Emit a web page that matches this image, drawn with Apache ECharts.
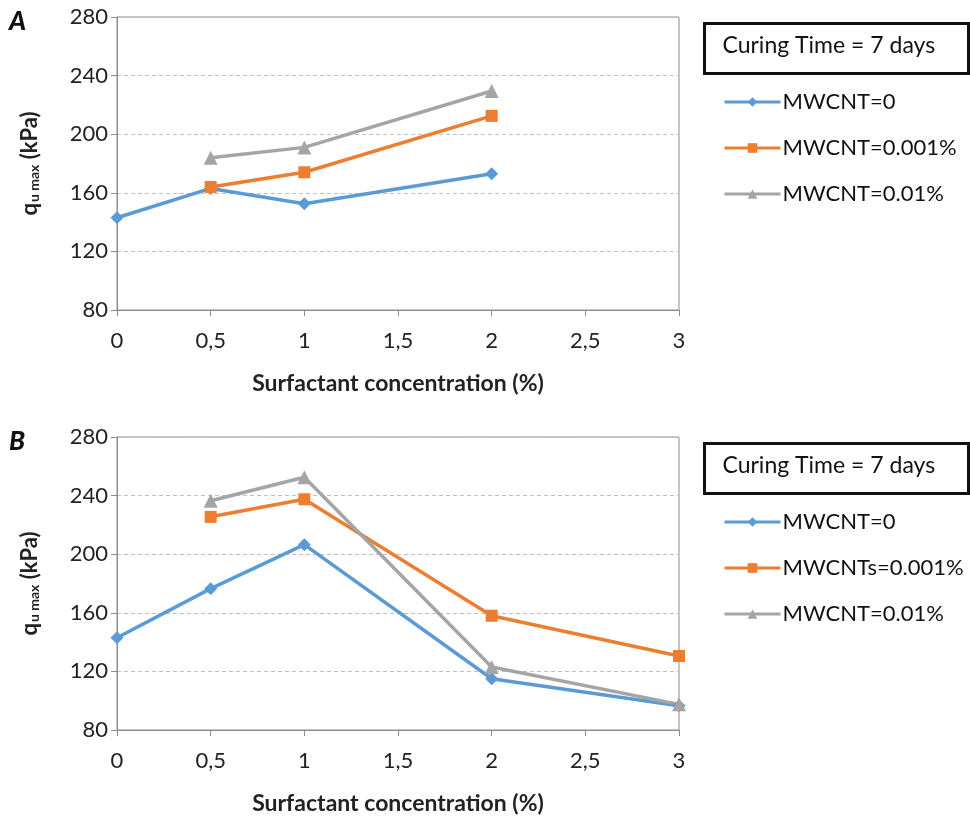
<html>
<head>
<meta http-equiv="Content-Type" content="text/html; charset=utf-8">
<title>qu max vs surfactant</title>
<script src="https://cdn.jsdelivr.net/npm/echarts@6/dist/echarts.min.js"></script>
</head>
<body style="margin:0;background:#fff;">
<div id="main" style="width:970px;height:821px;"></div>
<script type="text/javascript">
// x positions (surfactant %), values in kPa
var xA = [0, 0.5, 1, 2];
var a_mw0 = [143, 163, 152.5, 173];
var a_mw001 = [null, 164, 174, 212.5];
var a_mw01 = [null, 184, 191, 229.5];

var xB = [0, 0.5, 1, 2, 3];
var b_mw0 = [143, 176.5, 206.5, 115, 96.5];
var b_mw001 = [null, 225.5, 237.5, 158, 130.5];
var b_mw01 = [null, 236.5, 252.5, 123, 97.5];

var namesA = ['MWCNT=0', 'MWCNT=0.001%', 'MWCNT=0.01%'];
var namesB = ['MWCNT=0', 'MWCNTs=0.001%', 'MWCNT=0.01%'];
var yTicks = [80, 120, 160, 200, 240, 280];

var colors = ['#5B9BD5', '#ED7D31', '#A5A5A5'];
var symbols = ['diamond', 'rect', 'triangle'];
var symSize = [13, 12, 14];
var font = 'Lato, "Open Sans", sans-serif';

function pairs(xs, ys) {
    var out = [];
    for (var i = 0; i < xs.length; i++) {
        if (ys[i] != null) out.push([xs[i], ys[i]]);
    }
    return out;
}

function xAxis(idx) {
    return {
        type: 'value', gridIndex: idx, min: 0, max: 3, interval: 0.5,
        name: 'Surfactant concentration (%)', nameLocation: 'middle', nameGap: 62,
        nameTextStyle: {fontFamily: font, fontWeight: 'bold', fontSize: 23, color: '#222'},
        axisLine: {lineStyle: {color: '#8c8c8c', width: 1}},
        axisTick: {show: true, inside: false, length: 6, lineStyle: {color: '#8c8c8c'}},
        axisLabel: {fontFamily: font, fontSize: 22, color: '#222', margin: 20,
            formatter: function (v) { return String(v).replace('.', ','); }},
        splitLine: {show: false}
    };
}

function yAxis(idx) {
    return {
        type: 'value', gridIndex: idx, min: yTicks[0], max: yTicks[yTicks.length - 1], interval: 40,
        name: '{q|q}{s|u max}{q| (kPa)}', nameLocation: 'middle', nameGap: 76, nameRotate: 90,
        nameTextStyle: {
            rich: {
                q: {fontFamily: font, fontWeight: 'bold', fontSize: 22, color: '#222'},
                s: {fontFamily: font, fontWeight: 'bold', fontSize: 14, color: '#222', padding: [9, 0, 0, 1]}
            }
        },
        axisLine: {show: true, lineStyle: {color: '#8c8c8c', width: 1}},
        axisTick: {show: true, inside: false, length: 6, lineStyle: {color: '#8c8c8c'}},
        axisLabel: {fontFamily: font, fontSize: 22, color: '#222', margin: 9},
        splitLine: {show: true, lineStyle: {color: '#c0c0c0', type: [4, 3], width: 1}}
    };
}

function mkSeries(name, idx, k, xs, ys) {
    return {
        name: name, type: 'line', xAxisIndex: idx, yAxisIndex: idx,
        data: pairs(xs, ys), color: colors[k],
        symbol: symbols[k], symbolSize: symSize[k],
        lineStyle: {width: 3.5}, itemStyle: {color: colors[k]},
        animation: false
    };
}

function legend(top, names) {
    return {
        orient: 'vertical', left: 718, top: top, itemGap: 24,
        itemWidth: 56, itemHeight: 12,
        lineStyle: {width: 3},
        textStyle: {fontFamily: font, fontSize: 22, color: '#111', padding: [0, 0, 0, -3]},
        data: names
    };
}

function curingBox(y) {
    return {
        type: 'group', left: 703, top: y,
        children: [
            {type: 'rect', shape: {x: 0, y: 0, width: 264, height: 50},
                style: {fill: '#fff', stroke: '#111', lineWidth: 3}},
            {type: 'text', left: 18, top: 11,
                style: {text: 'Curing Time = 7 days', font: '23px ' + font, fill: '#111'}}
        ]
    };
}

var myChart = echarts.init(document.getElementById('main'));

var option = {
    backgroundColor: '#fff',
    animation: false,
    grid: [
        {left: 117, top: 17, width: 562, height: 293, show: true, borderColor: '#8c8c8c', borderWidth: 1},
        {left: 117, top: 437, width: 562, height: 293, show: true, borderColor: '#8c8c8c', borderWidth: 1}
    ],
    xAxis: [xAxis(0), xAxis(1)],
    yAxis: [yAxis(0), yAxis(1)],
    legend: [legend(86, namesA), legend(506, namesB)],
    series: [
        mkSeries(namesA[0], 0, 0, xA, a_mw0),
        mkSeries(namesA[1], 0, 1, xA, a_mw001),
        mkSeries(namesA[2], 0, 2, xA, a_mw01),
        mkSeries(namesB[0], 1, 0, xB, b_mw0),
        mkSeries(namesB[1], 1, 1, xB, b_mw001),
        mkSeries(namesB[2], 1, 2, xB, b_mw01)
    ],
    graphic: [
        {type: 'text', left: 9, top: 9,
            style: {text: 'A', font: 'italic 900 26px ' + font, fill: '#111'}},
        {type: 'text', left: 9, top: 429,
            style: {text: 'B', font: 'italic 900 26px ' + font, fill: '#111'}},
        curingBox(22),
        curingBox(442)
    ]
};
myChart.setOption(option);
</script>
</body>
</html>
